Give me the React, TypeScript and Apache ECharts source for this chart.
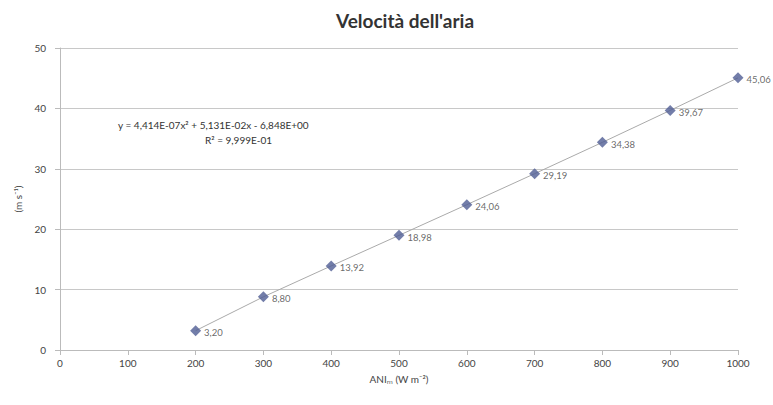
import React, { useEffect, useRef } from "react";
import * as echarts from "echarts";

const xValues = [200, 300, 400, 500, 600, 700, 800, 900, 1000];
const yValues = [3.2, 8.8, 13.92, 18.98, 24.06, 29.19, 34.38, 39.67, 45.06];
const labels = ["3,20", "8,80", "13,92", "18,98", "24,06", "29,19", "34,38", "39,67", "45,06"];
const titleText = "Velocità dell'aria";
const equationText = "y = 4,414E-07x² + 5,131E-02x - 6,848E+00";
const r2Text = "R² = 9,999E-01";
const xName = "ANIₘ (W m⁻²)";
const yName = "(m s⁻¹)";

export default function App() {
  const ref = useRef<HTMLDivElement>(null);
  useEffect(() => {
    document.body.style.margin = "0";
    const chart = echarts.init(ref.current!, null, { renderer: "svg" });
    const pts = xValues.map((x, i) => [x, yValues[i]]);
    const font = "Lato, 'Open Sans', sans-serif";
    chart.setOption({
      animation: false,
      backgroundColor: "#ffffff",
      textStyle: { fontFamily: font },
      title: {
        text: titleText,
        left: 400,
        top: 6,
        textAlign: "center",
        textStyle: { fontSize: 19, fontWeight: "bold", color: "#333", fontFamily: font },
      },
      grid: { left: 60, right: 35, top: 48, bottom: 55 },
      xAxis: {
        type: "value",
        min: 0,
        max: 1000,
        interval: 100,
        name: xName,
        nameLocation: "middle",
        nameGap: 24,
        nameTextStyle: { fontSize: 10, color: "#444" },
        axisLine: { show: true, lineStyle: { color: "#bbb" } },
        axisTick: { show: true, lineStyle: { color: "#bbb" } },
        axisLabel: { fontSize: 10, color: "#444", formatter: (v: number) => String(v) },
        splitLine: { show: false },
      },
      yAxis: {
        type: "value",
        min: 0,
        max: 50,
        interval: 10,
        name: yName,
        nameLocation: "middle",
        nameGap: 32,
        nameTextStyle: { fontSize: 10, color: "#444" },
        axisLine: { show: true, lineStyle: { color: "#bbb" } },
        axisTick: { show: true, lineStyle: { color: "#bbb" } },
        axisLabel: { fontSize: 10, color: "#444", margin: 14 },
        splitLine: { show: true, lineStyle: { color: "#c8c8c8" } },
      },
      graphic: [
        {
          type: "text",
          left: 118,
          top: 120,
          style: { text: equationText, fontSize: 10, fill: "#333", fontFamily: font },
        },
        {
          type: "text",
          left: 205,
          top: 135,
          style: { text: r2Text, fontSize: 10, fill: "#333", fontFamily: font },
        },
      ],
      series: [
        {
          type: "line",
          data: pts,
          symbol: "none",
          lineStyle: { color: "#aaa", width: 1 },
          silent: true,
          z: 1,
        },
        {
          type: "scatter",
          data: pts,
          symbol: "diamond",
          symbolSize: 11,
          itemStyle: { color: "#4f5d94" },
          z: 3,
          label: {
            show: true,
            position: "right",
            distance: 3,
            offset: [0, 2],
            fontSize: 9.5,
            color: "#444",
            formatter: (p: any) => labels[p.dataIndex],
          },
        },
      ],
    });
    return () => chart.dispose();
  }, []);
  return <div ref={ref} style={{ width: 773, height: 405 }} />;
}
